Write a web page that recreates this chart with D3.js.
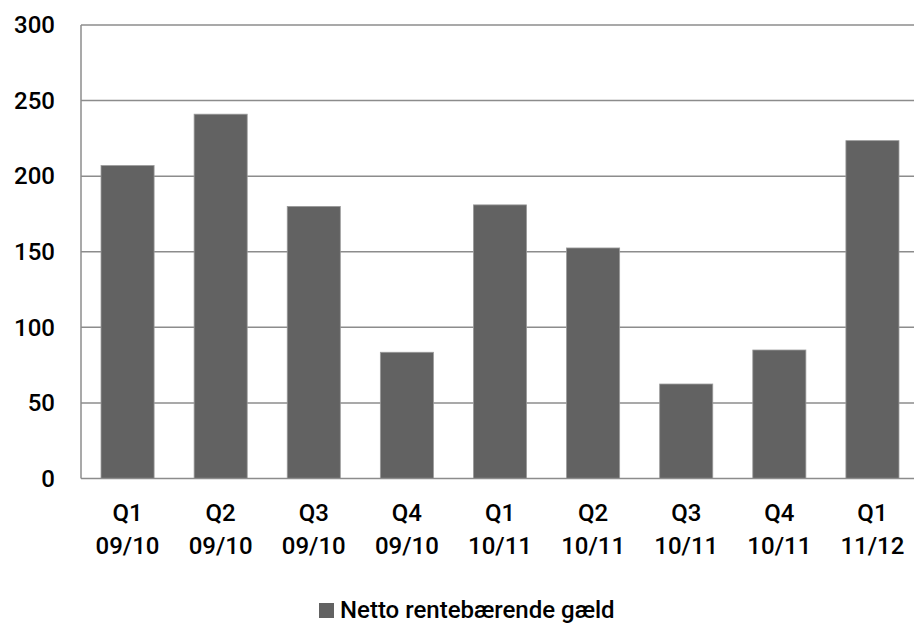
<!DOCTYPE html>
<html>
<head>
<meta charset="utf-8">
<script src="https://cdn.jsdelivr.net/npm/d3@7"></script>
<style>
  html, body { margin: 0; padding: 0; background: #fff; }
  svg { display: block; }
  text { font-family: Roboto, "Liberation Sans", sans-serif; fill: #000; font-weight: 500; }
</style>
</head>
<body>
<svg id="chart" width="914" height="625"></svg>
<script>
const quarters = ["Q1", "Q2", "Q3", "Q4", "Q1", "Q2", "Q3", "Q4", "Q1"];
const years = ["09/10", "09/10", "09/10", "09/10", "10/11", "10/11", "10/11", "10/11", "11/12"];
const values = [207, 241, 180, 83.5, 181, 152.5, 62.5, 85, 223.5];
const yTicks = [0, 50, 100, 150, 200, 250, 300];
const seriesName = "Netto rentebærende gæld";

(function () {
const svg = d3.select("#chart");
const pLeft = 81, pRight = 919, pTop = 25, pBottom = 478.5;
const fontSize = 24;

const x = d3.scaleBand().domain(d3.range(values.length)).range([pLeft, pRight]).paddingInner(0.43).paddingOuter(0.215);
const y = d3.scaleLinear().domain([0, 300]).range([pBottom, pTop]);

// gridlines
svg.append("g").selectAll("line").data(yTicks.filter(t => t > 0)).join("line")
  .attr("x1", pLeft).attr("x2", pRight)
  .attr("y1", d => y(d)).attr("y2", d => y(d))
  .attr("stroke", "#8c8c8c").attr("stroke-width", 1.5);

// bars
svg.append("g").selectAll("rect").data(values).join("rect")
  .attr("x", (d, i) => x(i)).attr("width", x.bandwidth())
  .attr("y", d => y(d)).attr("height", d => y(0) - y(d))
  .attr("fill", "#626262").attr("stroke", "#9a9a9a").attr("stroke-width", 0.8);

// axis lines
svg.append("line").attr("x1", pLeft).attr("x2", pLeft).attr("y1", pTop).attr("y2", pBottom)
  .attr("stroke", "#8c8c8c").attr("stroke-width", 1.5);
svg.append("line").attr("x1", pLeft).attr("x2", pRight).attr("y1", pBottom).attr("y2", pBottom)
  .attr("stroke", "#8c8c8c").attr("stroke-width", 1.5);

// y labels
const yAxis = d3.axisLeft(y).tickValues(yTicks).tickSize(0).tickPadding(26);
const gy = svg.append("g").attr("transform", `translate(${pLeft},0)`).call(yAxis);
gy.select(".domain").remove();
gy.selectAll("text").attr("font-size", fontSize).attr("font-family", "Roboto, 'Liberation Sans', sans-serif").attr("font-weight", 500).attr("fill", "#000");

// x labels
const xl = svg.append("g").selectAll("text").data(values).join("text")
  .attr("text-anchor", "middle")
  .attr("font-size", fontSize);
xl.append("tspan").attr("x", (d, i) => x(i) + x.bandwidth() / 2).attr("y", 521).text((d, i) => quarters[i]);
xl.append("tspan").attr("x", (d, i) => x(i) + x.bandwidth() / 2).attr("y", 554).text((d, i) => years[i]);

// legend
const lg = svg.append("g");
lg.append("rect").attr("x", 319).attr("y", 603).attr("width", 15).attr("height", 15).attr("fill", "#626262");
lg.append("text").attr("x", 340).attr("y", 618).attr("font-size", fontSize).text(seriesName);
})();
</script>
</body>
</html>
